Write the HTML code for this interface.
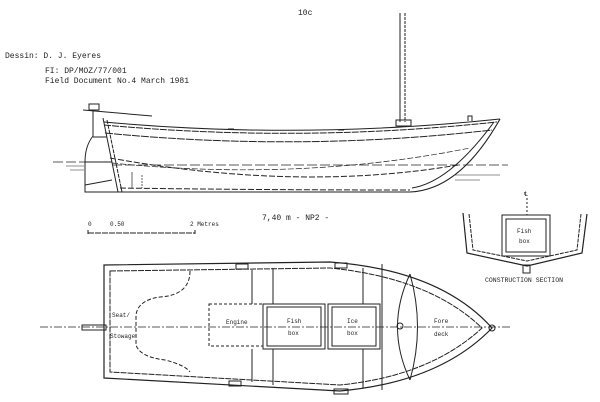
<!DOCTYPE html>
<html><head><meta charset="utf-8"><style>
html,body{margin:0;padding:0;background:#fff;}
svg{display:block}
text{font-family:"Liberation Mono",monospace;fill:#222}
</style></head><body>
<svg width="600" height="402" viewBox="0 0 600 402" xmlns="http://www.w3.org/2000/svg">
<g font-size="8">
<text x="298" y="15">10c</text>
<text x="5" y="58">Dessin: D. J. Eyeres</text>
<text x="45" y="73">FI: DP/MOZ/77/001</text>
<text x="45" y="83">Field Document No.4 March 1981</text>
<text x="262" y="220">7,40 m - NP2 -</text>
</g>
<g fill="none" stroke="#222" stroke-width="1">
<!-- mast -->
<line x1="400" y1="13" x2="400" y2="122"/><line x1="405" y1="13" x2="405" y2="122" stroke-dasharray="3,1"/>
<rect x="396" y="120" width="15" height="6"/>
<path d="M468 121 v-5 h4 v5"/>
<path d="M228 129 h6 M338 130 h6" />
<!-- hull profile -->
<path d="M104 122 Q300 140 500 119" />
<path d="M104 125 Q300 143 497 122" stroke-dasharray="7,1"/>
<path d="M105 133 Q300 152 492 130" stroke-dasharray="8,1"/>
<path d="M110 158 Q300 192 458 165" stroke-dasharray="6,2"/>
<path d="M112 163 Q300 182 470 148" stroke-dasharray="6,2" stroke-width="0.7"/>
<path d="M120 188 Q260 190 410 190" stroke-dasharray="6,2"/>
<path d="M118 192 L410 192 Q460 190 500 119" stroke-width="1.1"/>
<path d="M494 122 Q450 182 412 188" />
<path d="M83 110 L152 116" /><rect x="89" y="104" width="10" height="6"/>
<!-- stern / rudder -->
<path d="M93 110 L93 136 Q85 146 85 162 L85 192 L118 192" />
<path d="M85 185 L112 180"/>
<line x1="103" y1="118" x2="118" y2="192"/><line x1="107" y1="120" x2="122" y2="192" stroke-dasharray="4,1"/>
<line x1="93" y1="137" x2="107" y2="137"/>
<line x1="85" y1="162" x2="112" y2="162"/>
<line x1="132" y1="172" x2="132" y2="188" stroke-width="0.7"/><line x1="142" y1="175" x2="142" y2="188" stroke-width="0.7" stroke-dasharray="2,1"/>
<!-- waterline -->
<path d="M53 162 H85 M112 165 H508" stroke-dasharray="10,3" stroke-width="0.7"/>
<path d="M66 166 H84 M70 170 H84 M455 175 H500 M455 180 H480" stroke-width="0.6"/>
<!-- scale bar -->
<line x1="88" y1="233" x2="195" y2="233" stroke-dasharray="6,1"/>
<line x1="88" y1="230" x2="88" y2="234"/><line x1="195" y1="230" x2="195" y2="234"/>
<!-- section -->
<path d="M463 213 L467 253 L527 266 L582 253 L587 214" stroke-width="1.2"/>
<path d="M469 214 L473 250 L527 261 L577 250 L581 214" stroke-dasharray="4,1"/>
<rect x="502" y="215" width="48" height="41"/><rect x="506" y="219" width="40" height="33"/>
<path d="M527 198 V215" stroke-dasharray="2,2"/>
<rect x="523" y="265" width="7" height="8"/>
<!-- plan -->
<path d="M104 265 L330 262 Q440 270 492 328 Q440 382 340 391 L104 378 Z" stroke-width="1.2"/>
<path d="M110 271 L330 268 Q430 278 482 328 Q430 376 340 385 L110 372 Z" stroke-dasharray="6,1"/>
<path d="M190 271 Q190 295 160 297 Q138 300 136 315 L136 345 Q140 357 165 360 Q185 365 190 372" stroke-dasharray="4,2"/>
<line x1="40" y1="327" x2="510" y2="327" stroke-dasharray="8,2,2,2" stroke-width="0.8"/>
<rect x="82" y="325" width="24" height="5"/>
<rect x="209" y="304" width="54" height="42" stroke-dasharray="3,2"/>
<rect x="263" y="304" width="62" height="45"/><rect x="267" y="307" width="54" height="39"/>
<rect x="328" y="304" width="52" height="45"/><rect x="332" y="307" width="44" height="39"/>
<path d="M252 270 V304 M273 268 V304 M363 268 V304 M252 349 V382 M273 349 V385 M363 349 V388 M382 264 V390"/>
<path d="M410 274 Q385 327 410 380"/>
<path d="M410 274 Q425 327 410 380"/>
<circle cx="400" cy="326" r="3"/><circle cx="492" cy="328" r="3"/>
<rect x="335" y="263" width="12" height="5"/><rect x="236" y="264" width="12" height="5"/>
<rect x="229" y="381" width="12" height="5"/><rect x="334" y="389" width="14" height="5"/>
</g>
<g font-size="6" font-family="Liberation Sans,sans-serif">
<text x="88" y="226">0</text><text x="110" y="226">0.50</text><text x="190" y="226">2 Metres</text>
<text x="524" y="196">&#8452;</text>
<text x="517" y="233">Fish</text><text x="519" y="243">box</text>
<text x="485" y="282" font-size="6.5">CONSTRUCTION SECTION</text>
<text x="112" y="317">Seat/</text><text x="110" y="338">Stowage</text>
<text x="226" y="324">Engine</text>
<text x="287" y="323">Fish</text><text x="288" y="335">box</text>
<text x="347" y="323">Ice</text><text x="347" y="335">box</text>
<text x="434" y="323">Fore</text><text x="434" y="336">deck</text>
</g>
</svg>
</body></html>
